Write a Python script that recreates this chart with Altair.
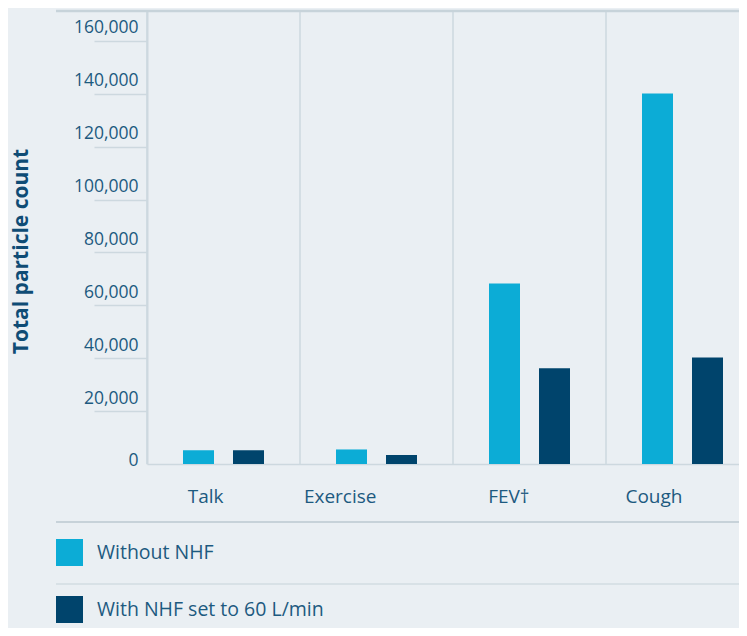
import altair as alt
import pandas as pd

categories = ["Talk", "Exercise", "FEV\u2020", "Cough"]
series = ["Without NHF", "With NHF set to 60 L/min"]
without_nhf = [5200, 5500, 68300, 140100]
with_nhf = [5200, 3400, 36200, 40300]
y_ticks = [0, 20000, 40000, 60000, 80000, 100000, 120000, 140000, 160000]

rows = []
for c, a, b in zip(categories, without_nhf, with_nhf):
    rows.append({"cat": c, "series": series[0], "value": a})
    rows.append({"cat": c, "series": series[1], "value": b})
df = pd.DataFrame(rows)
cat_df = pd.DataFrame({"cat": categories})

FONT = "Open Sans"
TXT = "#1d5a80"
LINE = "#cdd8df"

xscale = alt.Scale(domain=categories, range=[0, 612], paddingInner=0, paddingOuter=0)

bars = alt.Chart(df).mark_bar().encode(
    x=alt.X("cat:N", sort=categories, scale=xscale,
            axis=alt.Axis(title=None, labelFont=FONT, labelFontSize=19, labelColor=TXT,
                          labelAngle=0, ticks=False, tickSize=0, labelPadding=38,
                          labelBaseline="alphabetic", domainColor=LINE, domainWidth=1.5)),
    xOffset=alt.XOffset("series:N", sort=series,
                        scale=alt.Scale(paddingInner=0.38, paddingOuter=0.72)),
    y=alt.Y("value:Q", scale=alt.Scale(domain=[0, 171300], nice=False),
            axis=alt.Axis(title="Total particle count", values=y_ticks, format=",.0f",
                          titleFont=FONT, titleFontSize=21, titleFontWeight="bold",
                          titleColor="#0f4c75", titleAngle=270, titleX=-126, titleY=240,
                          titleAlign="center", titleBaseline="middle",
                          labelFont=FONT, labelFontSize=17.5, labelColor=TXT,
                          labelBaseline="alphabetic", labelAlign="right",
                          labelOffset={"condition": {"test": "datum.value === 0", "value": 1}, "value": -8},
                          labelPadding=-44, labelFlush=False, labelOverlap=False,
                          tickSize=53, tickWidth=1.5, tickColor=LINE,
                          tickOpacity={"condition": {"test": "datum.value === 0", "value": 0}, "value": 1},
                          domainColor=LINE, domainWidth=2, grid=False)),
    color=alt.Color("series:N", sort=series,
                    scale=alt.Scale(domain=series, range=["#0cacd6", "#00446c"]),
                    legend=alt.Legend(title=None, orient="none", legendX=-91, legendY=528,
                                      direction="vertical", symbolType="square", symbolSize=729,
                                      symbolStrokeWidth=0, symbolOpacity=1,
                                      labelFont=FONT, labelFontSize=19.5, labelColor=TXT,
                                      labelLimit=500,
                                      labelOffset=14, rowPadding=30, padding=0)),
)

dividers = alt.Chart(cat_df).mark_rule(color=LINE, strokeWidth=1.5).encode(
    x=alt.X("cat:N", sort=categories, scale=xscale, bandPosition=0)
)

top_line = alt.Chart(cat_df.head(1)).mark_rule(color="#c7d3da", strokeWidth=2.5).encode(
    x=alt.value(-91), x2=alt.value(620), y=alt.value(0)
)
sep1 = alt.Chart(cat_df.head(1)).mark_rule(color="#c7d2d9", strokeWidth=2).encode(
    x=alt.value(-91), x2=alt.value(620), y=alt.value(511)
)
sep2 = alt.Chart(cat_df.head(1)).mark_rule(color="#d2dce2", strokeWidth=1.5).encode(
    x=alt.value(-91), x2=alt.value(620), y=alt.value(573)
)

chart = alt.layer(dividers, top_line, sep1, sep2, bars).properties(
    width=592, height=453,
    autosize=alt.AutoSizeParams(type="none"),
    padding={"left": 139, "top": 3, "right": 0, "bottom": 164},
    background="#eaeff3",
).configure_view(stroke=None)

chart.save("out.html", embed_options={"renderer": "svg", "actions": False})
